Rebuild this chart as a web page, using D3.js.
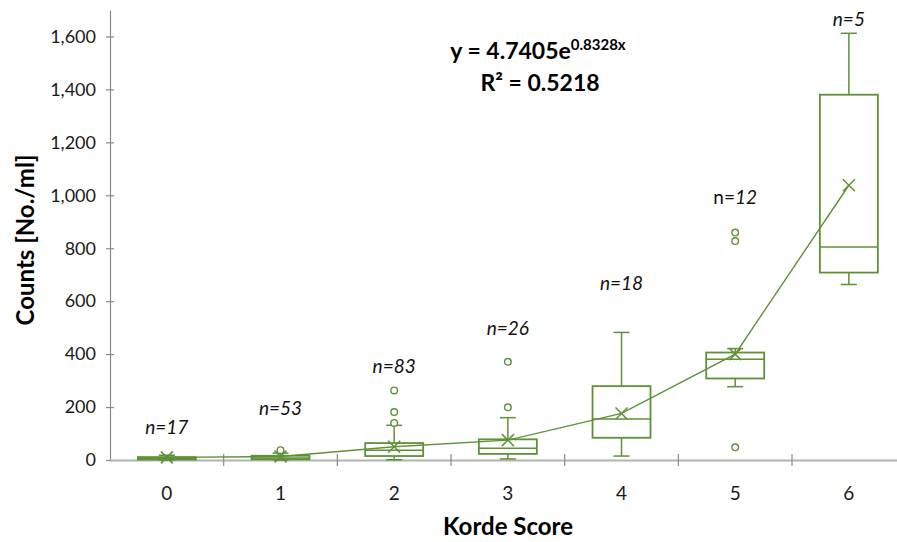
<!DOCTYPE html>
<html>
<head>
<meta charset="utf-8">
<script src="https://cdn.jsdelivr.net/npm/d3@7"></script>
<style>
  body { margin: 0; background: #fff; }
  svg { font-family: Lato, "Open Sans", sans-serif; }
</style>
</head>
<body>
<div id="chart-container"></div>
<script>
const w = 897;
const h = 542;

// box plot values per Korde score
const scores = ['0', '1', '2', '3', '4', '5', '6'];
const counts = [17, 53, 83, 26, 18, 12, 5];
const whiskerLow = [0, 0, 1, 4, 15, 277, 663];
const q1 = [2, 3, 15, 23, 84, 308, 708];
const median = [5, 8, 37, 44, 155, 381, 805];
const q3 = [11, 16, 64, 78, 279, 406, 1380];
const whiskerHigh = [18, 26, 131, 160, 482, 421, 1612];
const means = [10, 13, 50, 75, 176, 400, 1038];
const outliers = [[], [37], [140, 181, 263], [199, 371], [], [48, 827, 859], []];
// where the n= annotations sit, in data units
const labelValue = [122, 194, 354, 496, 668, 992, 1666];
const yTicks = [0, 200, 400, 600, 800, 1000, 1200, 1400, 1600];

const green = '#5f9137';

const svg = d3
  .select('#chart-container')
  .append('svg')
  .attr('width', w)
  .attr('height', h);

const xScale = d3.scaleBand().domain(scores).range([110, 905.7]);
const yScale = d3.scaleLinear().domain([0, 1700]).range([460, 10]);
const bw = xScale.bandwidth();
const cx = (i) => xScale(scores[i]) + bw / 2;
const boxW = bw * 0.51;
const capW = 16;

// y axis
const yAxis = d3
  .axisLeft(yScale)
  .tickValues(yTicks)
  .tickFormat(d3.format(','))
  .tickSizeInner(4)
  .tickSizeOuter(0)
  .tickPadding(10);

const gy = svg.append('g').attr('transform', 'translate(110,0)').call(yAxis);
gy.select('.domain').attr('stroke', '#8a8a8a').attr('stroke-width', 1.2);
gy.selectAll('.tick line').attr('x1', 4).attr('stroke', '#8a8a8a').attr('stroke-width', 1.2);
gy.selectAll('.tick text').attr('font-size', 18).attr('fill', '#1a1a1a').attr('font-family', 'Lato, sans-serif');

// x axis
const xAxis = d3.axisBottom(xScale).tickSize(0).tickPadding(27);
const gx = svg.append('g').attr('transform', 'translate(0,460)').call(xAxis);
gx.select('.domain').attr('stroke', '#b3b3b3').attr('stroke-width', 2);
gx.selectAll('.tick text').attr('font-size', 19).attr('fill', '#1a1a1a').attr('font-family', 'Lato, sans-serif');

svg
  .append('g')
  .selectAll('line')
  .data(scores.slice(1))
  .enter()
  .append('line')
  .attr('x1', (d) => xScale(d))
  .attr('x2', (d) => xScale(d))
  .attr('y1', 454)
  .attr('y2', 466)
  .attr('stroke', '#8a8a8a')
  .attr('stroke-width', 1.2);

// boxes
const boxes = svg
  .append('g')
  .selectAll('g')
  .data(scores)
  .enter()
  .append('g')
  .attr('stroke', green)
  .attr('fill', 'none');

boxes
  .append('line')
  .attr('x1', (d, i) => cx(i))
  .attr('x2', (d, i) => cx(i))
  .attr('y1', (d, i) => yScale(q3[i]))
  .attr('y2', (d, i) => yScale(whiskerHigh[i]))
  .attr('stroke-width', 1.5);

boxes
  .append('line')
  .attr('x1', (d, i) => cx(i))
  .attr('x2', (d, i) => cx(i))
  .attr('y1', (d, i) => yScale(q1[i]))
  .attr('y2', (d, i) => yScale(whiskerLow[i]))
  .attr('stroke-width', 1.5);

boxes
  .append('line')
  .attr('x1', (d, i) => cx(i) - capW / 2)
  .attr('x2', (d, i) => cx(i) + capW / 2)
  .attr('y1', (d, i) => yScale(whiskerHigh[i]))
  .attr('y2', (d, i) => yScale(whiskerHigh[i]))
  .attr('stroke-width', 1.5);

boxes
  .append('line')
  .attr('x1', (d, i) => cx(i) - capW / 2)
  .attr('x2', (d, i) => cx(i) + capW / 2)
  .attr('y1', (d, i) => yScale(whiskerLow[i]))
  .attr('y2', (d, i) => yScale(whiskerLow[i]))
  .attr('stroke-width', 1.5);

boxes
  .append('rect')
  .attr('x', (d, i) => cx(i) - boxW / 2)
  .attr('width', boxW)
  .attr('y', (d, i) => yScale(q3[i]))
  .attr('height', (d, i) => Math.max(yScale(q1[i]) - yScale(q3[i]), 1))
  .attr('stroke-width', 1.8);

boxes
  .append('line')
  .attr('x1', (d, i) => cx(i) - boxW / 2)
  .attr('x2', (d, i) => cx(i) + boxW / 2)
  .attr('y1', (d, i) => yScale(median[i]))
  .attr('y2', (d, i) => yScale(median[i]))
  .attr('stroke-width', 1.5);

// outliers
boxes.each(function (d, i) {
  d3.select(this)
    .selectAll('circle')
    .data(outliers[i])
    .enter()
    .append('circle')
    .attr('cx', cx(i))
    .attr('cy', (v) => yScale(v))
    .attr('r', 3.3)
    .attr('fill', '#fff')
    .attr('stroke-width', 1.4);
});

// mean line
const line = d3
  .line()
  .x((d, i) => cx(i))
  .y((d) => yScale(d));

svg
  .append('path')
  .datum(means)
  .attr('d', line)
  .attr('fill', 'none')
  .attr('stroke', green)
  .attr('stroke-width', 1.4);

// mean markers
const mk = 6;
svg
  .append('g')
  .selectAll('path')
  .data(means)
  .enter()
  .append('path')
  .attr('d', (d, i) => {
    const x = cx(i);
    const y = yScale(d);
    return `M${x - mk},${y - mk}L${x + mk},${y + mk}M${x - mk},${y + mk}L${x + mk},${y - mk}`;
  })
  .attr('stroke', green)
  .attr('stroke-width', 1.5)
  .attr('fill', 'none');

// n= labels
const nLabels = svg
  .append('g')
  .selectAll('text')
  .data(counts)
  .enter()
  .append('text')
  .attr('x', (d, i) => cx(i))
  .attr('y', (d, i) => yScale(labelValue[i]))
  .attr('dy', '0.35em')
  .attr('text-anchor', 'middle')
  .attr('font-size', 19)
  .attr('fill', '#111');

nLabels
  .append('tspan')
  .attr('font-style', (d, i) => (i === 5 ? 'normal' : 'italic'))
  .text('n=');
nLabels
  .append('tspan')
  .attr('font-style', 'italic')
  .text((d) => d);

// equation
const eq = svg
  .append('text')
  .attr('x', 538)
  .attr('y', 59)
  .attr('text-anchor', 'middle')
  .attr('font-size', 23)
  .attr('font-weight', 'bold')
  .attr('fill', '#000');
eq.append('tspan').text('y = 4.7405e');
eq.append('tspan').attr('font-size', 15).attr('dy', -9).text('0.8328x');

svg
  .append('text')
  .attr('x', 540)
  .attr('y', 91)
  .attr('text-anchor', 'middle')
  .attr('font-size', 23)
  .attr('font-weight', 'bold')
  .attr('fill', '#000')
  .text('R² = 0.5218');

// axis titles
svg
  .append('text')
  .attr('transform', 'translate(34,240) rotate(-90)')
  .attr('text-anchor', 'middle')
  .attr('font-size', 24)
  .attr('font-weight', 'bold')
  .attr('fill', '#000')
  .text('Counts [No./ml]');

svg
  .append('text')
  .attr('x', 508)
  .attr('y', 535)
  .attr('text-anchor', 'middle')
  .attr('font-size', 24)
  .attr('font-weight', 'bold')
  .attr('fill', '#000')
  .text('Korde Score');
</script>
</body>
</html>
